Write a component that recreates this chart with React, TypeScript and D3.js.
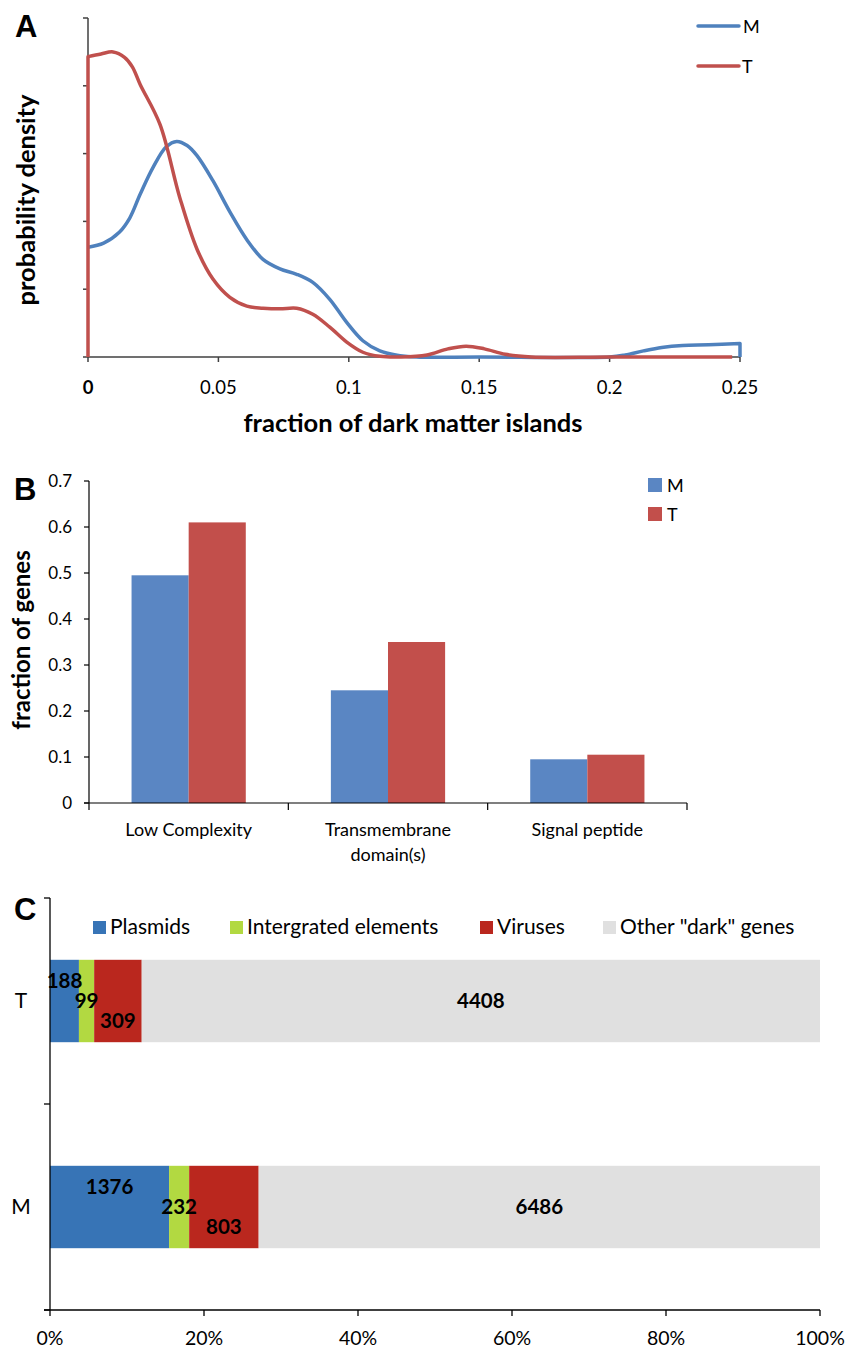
import React from "react";
import * as d3 from "d3";

// ---------- Panel A data: density curves ----------
const densityM: [number, number][] = [
  [0, 1.62], [0.006, 1.68], [0.012, 1.84], [0.016, 2.05], [0.02, 2.4], [0.025, 2.8],
  [0.03, 3.1], [0.0340, 3.18], [0.038, 3.12], [0.0418, 2.97], [0.0479, 2.6], [0.0544, 2.14], [0.0609, 1.73],
  [0.0671, 1.44], [0.0736, 1.3], [0.080, 1.22], [0.0862, 1.1], [0.0927, 0.85],
  [0.0992, 0.51], [0.1054, 0.24], [0.1119, 0.09], [0.118, 0.03], [0.126, 0.0], [0.15, 0.0],
  [0.2, 0.0], [0.206, 0.03], [0.213, 0.09], [0.22, 0.14], [0.228, 0.17], [0.238, 0.18], [0.25, 0.2],
];
const densityT: [number, number][] = [
  [0, 4.43], [0.005, 4.47], [0.0096, 4.5], [0.014, 4.42], [0.017, 4.28], [0.02, 4.02],
  [0.0276, 3.43], [0.0352, 2.35], [0.0418, 1.59], [0.0479, 1.15], [0.0544, 0.88], [0.0609, 0.75],
  [0.0671, 0.72], [0.0736, 0.71], [0.080, 0.72], [0.0862, 0.63], [0.0927, 0.44], [0.0992, 0.22],
  [0.1054, 0.07], [0.1119, 0.01], [0.12, 0.0], [0.13, 0.03], [0.138, 0.12], [0.145, 0.16],
  [0.152, 0.12], [0.16, 0.04], [0.17, 0.0], [0.2, 0.0], [0.247, 0.0],
];
const xTicksA = [0, 0.05, 0.1, 0.15, 0.2, 0.25];
const xTickLabelsA = ["0", "0.05", "0.1", "0.15", "0.2", "0.25"];
const yTicksA = [0, 1, 2, 3, 4, 5];

// ---------- Panel B data ----------
const categoriesB = ["Low Complexity", "Transmembrane domain(s)", "Signal peptide"];
const categoryLinesB = [["Low Complexity"], ["Transmembrane", "domain(s)"], ["Signal peptide"]];
const seriesB = ["M", "T"];
const valuesBM = [0.495, 0.245, 0.095];
const valuesBT = [0.61, 0.35, 0.105];
const yTicksB = [0, 0.1, 0.2, 0.3, 0.4, 0.5, 0.6, 0.7];

// ---------- Panel C data ----------
const groupsC = ["T", "M"];
const stackKeysC = ["Plasmids", "Intergrated elements", "Viruses", "Other \"dark\" genes"];
const countsCT = [188, 99, 309, 4408];
const countsCM = [1376, 232, 803, 6486];
const xTicksC = [0, 0.2, 0.4, 0.6, 0.8, 1.0];

const colM = "#4F81BD";
const colT = "#C0504D";
const barM = "#5A86C3";
const barT = "#C24F4B";
const stackColors = ["#3774B6", "#B2D941", "#BA271E", "#E0E0E0"];
const font = "Lato, 'Open Sans', 'DejaVu Sans', sans-serif";
const boldFont = "'Liberation Sans', Arial, sans-serif";

export default function App() {
  // Panel A scales
  const xA = d3.scaleLinear().domain([0, 0.25]).range([88, 740]);
  const yA = d3.scaleLinear().domain([0, 5]).range([357, 18]);
  const line = d3
    .line<[number, number]>()
    .x((d) => xA(d[0]))
    .y((d) => Math.min(yA(0), yA(d[1])))
    .curve(d3.curveCatmullRom.alpha(0.5));
  const pathT = `M${xA(0)},${yA(0)}L` + (line(densityT) || "").slice(1);
  const pathM = (line(densityM) || "") + `L${xA(0.25)},${yA(0)}`;

  // Panel B scales
  const xB = d3.scaleBand<string>().domain(categoriesB).range([89, 687]).paddingInner(0).paddingOuter(0);
  const xSub = d3.scaleBand<string>().domain(seriesB).range([0, xB.bandwidth()]).paddingInner(0).paddingOuter(0.745);
  const yB = d3.scaleLinear().domain([0, 0.7]).range([803, 481]);
  const valsB: Record<string, number[]> = { M: valuesBM, T: valuesBT };
  const colsB: Record<string, string> = { M: barM, T: barT };

  // Panel C scales
  const xC = d3.scaleLinear().domain([0, 1]).range([50, 820]);
  const yC = d3.scaleBand<string>().domain(groupsC).range([898, 1310]);
  const countsC: Record<string, number[]> = { T: countsCT, M: countsCM };
  const labelOffsets = [-20, 0, 20, 0];

  return (
    <svg width={856} height={1349} style={{ position: "absolute", left: 0, top: 0, background: "#fff" }}>
      <rect x={0} y={0} width={856} height={1349} fill="#fff" />
      {/* ================= Panel A ================= */}
      <text x={15} y={37} fontFamily={boldFont} fontWeight="bold" fontSize={31}>A</text>
      <line x1={88} x2={88} y1={yA(5)} y2={yA(0)} stroke="#404040" strokeWidth={1.5} />
      <line x1={88} x2={xA(0.25)} y1={yA(0)} y2={yA(0)} stroke="#404040" strokeWidth={1.5} />
      {yTicksA.map((t) => (
        <line key={"ya" + t} x1={83} x2={88} y1={yA(t)} y2={yA(t)} stroke="#404040" strokeWidth={1.5} />
      ))}
      {xTicksA.map((t, i) => (
        <g key={"xa" + t}>
          <line x1={xA(t)} x2={xA(t)} y1={yA(0)} y2={yA(0) + 5} stroke="#404040" strokeWidth={1.5} />
          <text
            x={xA(t)}
            y={394}
            textAnchor="middle"
            fontFamily={font}
            fontSize={18.5}
            fontWeight={i === 0 ? "bold" : "normal"}
            fill="#000"
          >
            {xTickLabelsA[i]}
          </text>
        </g>
      ))}
      <path d={pathM} fill="none" stroke={colM} strokeWidth={3.5} strokeLinejoin="round" />
      <path d={pathT} fill="none" stroke={colT} strokeWidth={3.5} strokeLinejoin="round" />
      <text x={413} y={432} textAnchor="middle" fontFamily={font} fontWeight="bold" fontSize={25.5}>
        fraction of dark matter islands
      </text>
      <text
        transform="translate(35,200) rotate(-90)"
        textAnchor="middle"
        fontFamily={font}
        fontWeight="bold"
        fontSize={25.5}
      >
        probability density
      </text>
      {/* legend A */}
      <line x1={698} x2={739} y1={26} y2={26} stroke={colM} strokeWidth={3.5} strokeLinecap="round" />
      <text x={743} y={33} fontFamily={font} fontSize={18}>M</text>
      <line x1={698} x2={739} y1={66} y2={66} stroke={colT} strokeWidth={3.5} strokeLinecap="round" />
      <text x={742} y={73} fontFamily={font} fontSize={18}>T</text>

      {/* ================= Panel B ================= */}
      <text x={14} y={500} fontFamily={boldFont} fontWeight="bold" fontSize={31}>B</text>
      {categoriesB.map((c, ci) =>
        seriesB.map((s) => (
          <rect
            key={c + s}
            x={(xB(c) || 0) + (xSub(s) || 0)}
            y={yB(valsB[s][ci])}
            width={xSub.bandwidth()}
            height={yB(0) - yB(valsB[s][ci])}
            fill={colsB[s]}
          />
        ))
      )}
      <line x1={89} x2={89} y1={yB(0.7)} y2={yB(0)} stroke="#000" strokeWidth={1.2} />
      <line x1={84} x2={687} y1={yB(0)} y2={yB(0)} stroke="#000" strokeWidth={1.2} />
      {yTicksB.map((t) => (
        <g key={"yb" + t}>
          <line x1={84} x2={89} y1={yB(t)} y2={yB(t)} stroke="#000" strokeWidth={1.2} />
          <text x={72} y={yB(t) + 6} textAnchor="end" fontFamily={font} fontSize={17}>
            {d3.format(".1~f")(t)}
          </text>
        </g>
      ))}
      {[...categoriesB.map((c) => xB(c) || 0), 687].map((x, i) => (
        <line key={"xb" + i} x1={x} x2={x} y1={yB(0)} y2={yB(0) + 7} stroke="#000" strokeWidth={1.2} />
      ))}
      {categoriesB.map((c, ci) =>
        categoryLinesB[ci].map((ln, li) => (
          <text
            key={c + li}
            x={(xB(c) || 0) + xB.bandwidth() / 2}
            y={836 + li * 25}
            textAnchor="middle"
            fontFamily={font}
            fontSize={18}
          >
            {ln}
          </text>
        ))
      )}
      <text
        transform="translate(30,640) rotate(-90)"
        textAnchor="middle"
        fontFamily={font}
        fontWeight="bold"
        fontSize={24}
      >
        fraction of genes
      </text>
      {/* legend B */}
      <rect x={648} y={478} width={14} height={14} fill={barM} />
      <text x={667} y={492} fontFamily={font} fontSize={18}>M</text>
      <rect x={648} y={507} width={14} height={14} fill={barT} />
      <text x={667} y={521} fontFamily={font} fontSize={18}>T</text>

      {/* ================= Panel C ================= */}
      <text x={14} y={920} fontFamily={boldFont} fontWeight="bold" fontSize={31}>C</text>
      {groupsC.map((g) => {
        const vals = countsC[g];
        const total = d3.sum(vals);
        const cum = d3.cumsum(vals);
        const cy = (yC(g) || 0) + yC.bandwidth() / 2;
        const h = yC.bandwidth() * 0.4;
        return (
          <g key={"c" + g}>
            {vals.map((v, i) => {
              const x0 = xC((cum[i] - v) / total);
              const x1 = xC(cum[i] / total);
              return (
                <rect key={i} x={x0} y={cy - h / 2} width={x1 - x0} height={h} fill={stackColors[i]} />
              );
            })}
            {vals.map((v, i) => {
              const x0 = xC((cum[i] - v) / total);
              const x1 = xC(cum[i] / total);
              return (
                <text
                  key={"l" + i}
                  x={(x0 + x1) / 2}
                  y={cy + labelOffsets[i] + 7}
                  textAnchor="middle"
                  fontFamily={font}
                  fontWeight="bold"
                  fontSize={20.5}
                >
                  {v}
                </text>
              );
            })}
            <text x={21} y={cy + 7} textAnchor="middle" fontFamily={font} fontSize={21}>
              {g}
            </text>
          </g>
        );
      })}
      <line x1={50} x2={50} y1={898} y2={1310} stroke="#000" strokeWidth={1.3} />
      <line x1={44} x2={820} y1={1310} y2={1310} stroke="#000" strokeWidth={1.3} />
      {[898, 1104, 1310].map((y) => (
        <line key={"yc" + y} x1={44} x2={50} y1={y} y2={y} stroke="#000" strokeWidth={1.3} />
      ))}
      {xTicksC.map((t) => (
        <g key={"xc" + t}>
          <line x1={xC(t)} x2={xC(t)} y1={1310} y2={1316} stroke="#000" strokeWidth={1.3} />
          <text x={xC(t)} y={1345} textAnchor="middle" fontFamily={font} fontSize={19.5}>
            {d3.format(".0%")(t)}
          </text>
        </g>
      ))}
      {/* legend C */}
      {stackKeysC.map((k, i) => {
        const lx = [93, 230, 480, 603][i];
        return (
          <g key={"lc" + k}>
            <rect x={lx} y={921} width={13} height={13} fill={stackColors[i]} />
            <text x={lx + 17} y={934} fontFamily={font} fontSize={21}>
              {k}
            </text>
          </g>
        );
      })}
    </svg>
  );
}
